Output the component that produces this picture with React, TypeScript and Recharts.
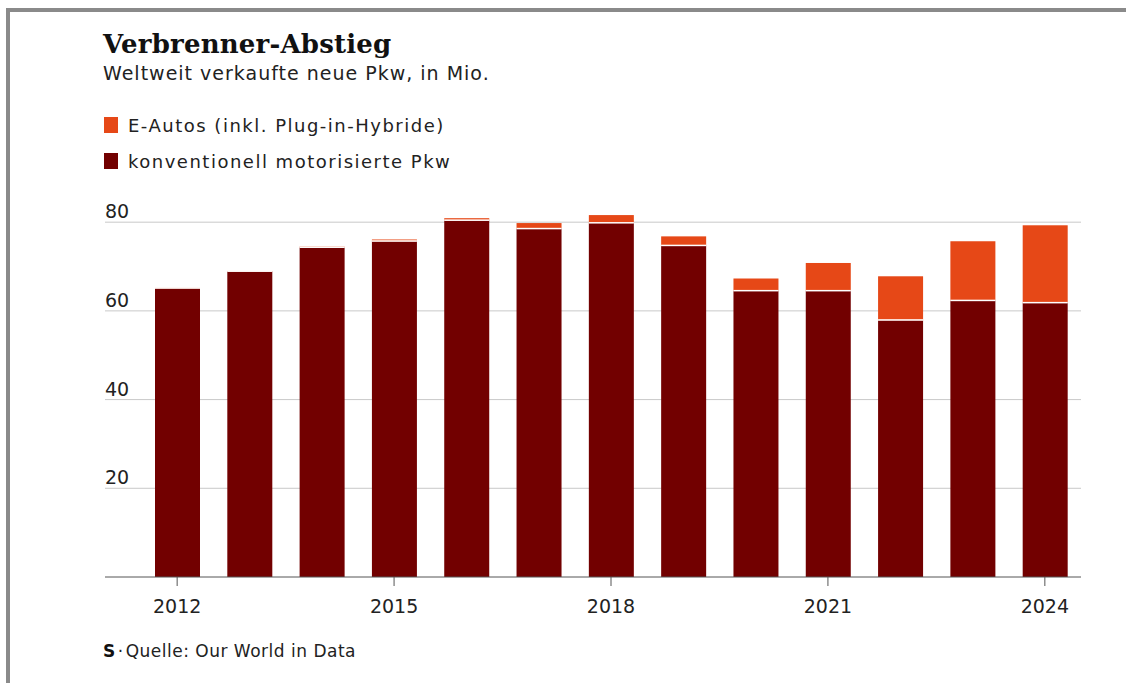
import React from "react";
import { BarChart, Bar, XAxis, YAxis, CartesianGrid } from "recharts";

const years = ["2012", "2013", "2014", "2015", "2016", "2017", "2018", "2019", "2020", "2021", "2022", "2023", "2024"];
const conventional = [65.1, 68.9, 74.3, 75.7, 80.4, 78.5, 79.8, 74.7, 64.5, 64.5, 57.9, 62.3, 61.8];
const electric = [0.1, 0.1, 0.2, 0.4, 0.5, 1.3, 1.8, 2.1, 2.8, 6.3, 9.9, 13.4, 17.5];
const yTicks = [20, 40, 60, 80];

const data = years.map((year, i) => ({ year, conv: conventional[i], ev: electric[i] }));

const DARK = "#720000";
const ORANGE = "#e64817";
const SANS = "'DejaVu Sans', sans-serif";

// orange segment with a thin white seam at its bottom edge
function EvShape(props: any) {
  const { x, y, width, height, fill } = props;
  if (!width || height == null) return null;
  return (
    <g>
      <rect x={x} y={y} width={width} height={Math.max(height, 0)} fill={fill} />
      <rect x={x} y={y + height - 1} width={width} height={1.5} fill="#fff" />
    </g>
  );
}

function renderYTick(props: any) {
  const { y, payload } = props;
  return (
    <text x={105} y={y - 4} fontSize={19} fill="#222" fontFamily={SANS}>
      {payload.value}
    </text>
  );
}

const textStyle = (top: number, size: number, extra: React.CSSProperties = {}): React.CSSProperties => ({
  position: "absolute",
  left: 103,
  top,
  fontSize: size,
  lineHeight: `${size}px`,
  whiteSpace: "nowrap",
  color: "#222",
  fontFamily: SANS,
  ...extra,
});

export default function App() {
  return (
    <div style={{ position: "fixed", left: 0, top: 0, width: 1132, height: 683, background: "#fff", overflow: "hidden" }}>
      <div style={{ position: "absolute", left: 6, top: 8, width: 1120, height: 4, background: "#8a8a8a" }} />
      <div style={{ position: "absolute", left: 6, top: 8, width: 4, height: 683, background: "#8a8a8a" }} />

      <div style={textStyle(31, 26, { fontFamily: "'DejaVu Serif', serif", fontWeight: 700, color: "#111", letterSpacing: 0.2 })}>
        Verbrenner-Abstieg
      </div>
      <div style={textStyle(64, 19, { letterSpacing: 1 })}>Weltweit verkaufte neue Pkw, in Mio.</div>

      <div style={{ position: "absolute", left: 104, top: 117, width: 14, height: 16, background: ORANGE }} />
      <div style={textStyle(116.5, 18, { left: 128, letterSpacing: 1.5 })}>E-Autos (inkl. Plug-in-Hybride)</div>
      <div style={{ position: "absolute", left: 104, top: 153, width: 14, height: 16, background: DARK }} />
      <div style={textStyle(153, 18, { left: 128, letterSpacing: 1.5 })}>konventionell motorisierte Pkw</div>

      <div style={{ position: "absolute", left: 0, top: 0 }}>
        <BarChart width={1132} height={683} data={data} margin={{ top: 200, right: 51, bottom: 66, left: 104 }}>
          <CartesianGrid vertical={false} stroke="#c9c9c9" horizontalValues={yTicks} />
          <YAxis
            width={1}
            domain={[0, 85]}
            ticks={yTicks}
            axisLine={false}
            tickLine={false}
            tick={renderYTick}
          />
          <XAxis
            dataKey="year"
            interval={2}
            height={40}
            padding={{ left: 36, right: 0 }}
            axisLine={{ stroke: "#555" }}
            tickLine={{ stroke: "#555" }}
            tickSize={9}
            tickMargin={14}
            tick={{ fontSize: 19, fill: "#222", fontFamily: SANS }}
          />
          <Bar dataKey="conv" stackId="a" fill={DARK} barSize={45} isAnimationActive={false} />
          <Bar dataKey="ev" stackId="a" fill={ORANGE} barSize={45} shape={<EvShape />} isAnimationActive={false} />
        </BarChart>
      </div>

      <div style={textStyle(642.5, 17, { letterSpacing: 0.5 })}>
        <span style={{ fontWeight: 900, color: "#111" }}>S</span>
        <span style={{ margin: "0 2px" }}>·</span>Quelle: Our World in Data
      </div>
    </div>
  );
}
